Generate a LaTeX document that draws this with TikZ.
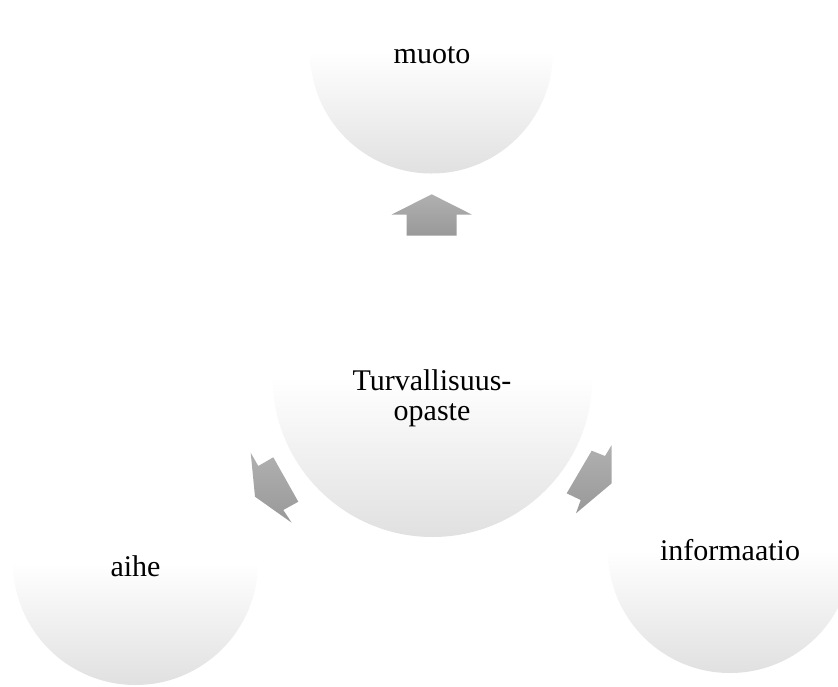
\documentclass[tikz,border=0pt]{standalone}
\usepackage{fontspec}
\setmainfont{Liberation Serif}
\begin{document}
\begin{tikzpicture}[x=1pt,y=-1pt,
		bubble/.style={circle, inner sep=0pt, minimum size=#1, top color=white, bottom color=black!12, middle color=white},
		lbl/.style={inner sep=0pt, align=center, font=\fontsize{30}{30}\selectfont},
		blockarrow/.style={top color=black!31, bottom color=black!40}]
				\useasboundingbox (0,0) rectangle (838,686);
				% circles
				\node[bubble=243pt] (muoto) at (431.5,52) {};
				\node[bubble=320pt] (opaste) at (432.5,377) {};
				\node[bubble=245pt] (aihe) at (135.5,562.5) {};
				\node[bubble=244pt] (info) at (730,551) {};
				% labels
				\node[lbl] (muototxt) at (432,55) {muoto};
				\node[lbl] (opastetxt) at (432,398) {Turvallisuus-\\opaste};
				\node[lbl] (aihetxt) at (135.5,566) {aihe};
				\node[lbl] (infotxt) at (730,550) {informaatio};
				% block arrows
				\path[blockarrow] (431.7,194.3) -- (471.7,214.5) -- (456.7,214.5) -- (456.7,235.7) -- (406.7,235.7) -- (406.7,214.5) -- (391.7,214.5) -- cycle;
				\path[blockarrow] (250.7,452.7) -- (258.3,466) -- (273.3,457.3) -- (298.3,501.7) -- (283.3,510) -- (291.7,522.7) -- (255,496.7) -- cycle;
				\path[blockarrow] (611.7,445) -- (605,456) -- (591.7,450.7) -- (566.7,493.3) -- (580.7,500) -- (576,513.3) -- (611.7,483.3) -- cycle;
			\end{tikzpicture}
\end{document}
